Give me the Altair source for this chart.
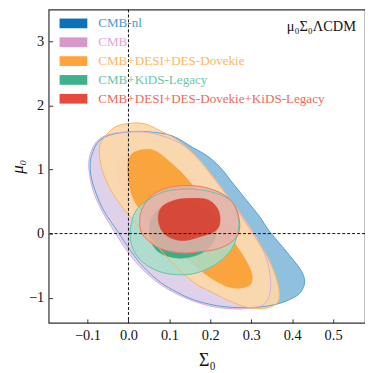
import altair as alt
import pandas as pd

# ---------------- data ----------------
series_names = ["CMB-nl", "CMB", "CMB+DESI+DES-Dovekie", "CMB+KiDS-Legacy",
                "CMB+DESI+DES-Dovekie+KiDS-Legacy"]
patch_colors = ["#0a72b8", "#d898cc", "#ffa43a", "#3eb28e", "#e64a3c"]
label_colors = ["#4a9ad2", "#e2a6da", "#ffb660", "#6cc6a8", "#ec6a5c"]

x_ticks = [-0.1, 0.0, 0.1, 0.2, 0.3, 0.4, 0.5]
y_ticks = [-1, 0, 1, 2, 3]
x_domain = [-0.195, 0.578]
y_domain = [-1.395, 3.5]

# CMB-nl 95%
cmbnl95_sigma = [-0.0887, -0.075, -0.0468, 0.0016, 0.05, 0.1065, 0.1589, 0.1911, 0.2234, 0.2556,
                 0.2879, 0.3202, 0.3444, 0.3847, 0.4169, 0.429, 0.429, 0.4169, 0.3927, 0.3605,
                 0.3202, 0.2677, 0.2113, 0.1589, 0.1185, 0.0782, 0.0379, 0.0056, -0.0266, -0.0589,
                 -0.079, -0.0911, -0.0935]
cmbnl95_mu = [1.244, 1.424, 1.537, 1.589, 1.589, 1.527, 1.337, 1.219, 1.039, 0.781,
              0.524, 0.267, 0.036, -0.272, -0.530, -0.684, -0.812, -0.941, -1.033, -1.105,
              -1.147, -1.157, -1.121, -1.033, -0.915, -0.761, -0.530, -0.272, 0.036, 0.344,
              0.627, 0.884, 1.090]

# CMB 95%
cmb95_sigma = [-0.0968, -0.0887, -0.071, -0.0387, 0.0097, 0.0581, 0.1226, 0.171, 0.2194, 0.2677,
               0.3081, 0.3363, 0.3468, 0.3452, 0.3323, 0.3081, 0.2677, 0.2113, 0.1589, 0.1145,
               0.0742, 0.0339, 0.0, -0.0323, -0.0629, -0.0831, -0.0935]
cmb95_mu = [1.116, 1.321, 1.476, 1.563, 1.589, 1.568, 1.424, 1.167, 0.781, 0.370,
            -0.015, -0.375, -0.684, -0.941, -1.095, -1.157, -1.177, -1.147, -1.054, -0.931,
            -0.776, -0.555, -0.298, 0.010, 0.334, 0.612, 0.859]

# CMB 68%
cmb68_sigma = [-0.029, -0.021, -0.0024, 0.0258, 0.0661, 0.1145, 0.1629, 0.2113, 0.2516, 0.2637,
               0.2556, 0.2274, 0.1871, 0.1387, 0.0903, 0.0419, 0.0056, -0.0185]
cmb68_mu = [1.039, 1.167, 1.219, 1.167, 0.961, 0.653, 0.293, -0.067, -0.427, -0.684,
            -0.812, -0.828, -0.710, -0.478, -0.195, 0.139, 0.447, 0.730]

# CMB+DESI+DES-Dovekie 95%
cdd95_sigma = [-0.071, -0.0589, -0.0347, -0.0024, 0.0379, 0.0782, 0.1226, 0.1629, 0.2032, 0.2516,
               0.3, 0.3403, 0.3629, 0.3685, 0.3589, 0.3282, 0.2879, 0.2435, 0.1992, 0.1589,
               0.1065, 0.054, 0.0177, -0.0065, -0.0306, -0.0532, -0.0669]
cdd95_mu = [1.347, 1.501, 1.656, 1.717, 1.717, 1.604, 1.450, 1.219, 0.910, 0.499,
            0.036, -0.375, -0.735, -0.992, -1.111, -1.172, -1.147, -1.044, -0.900, -0.761,
            -0.452, -0.077, 0.165, 0.344, 0.550, 0.807, 1.064]

# CMB+DESI+DES-Dovekie 68%
cdd68_sigma = [0.0016, 0.0137, 0.0419, 0.0661, 0.0944, 0.1347, 0.171, 0.2113, 0.2556, 0.2879,
               0.3016, 0.3, 0.2855, 0.2613, 0.2355, 0.1992, 0.1629, 0.1226, 0.0823, 0.046,
               0.0202, 0.0056, -0.0008, -0.0016]
cdd68_mu = [1.177, 1.270, 1.316, 1.290, 1.157, 0.920, 0.643, 0.303, -0.108, -0.427,
            -0.632, -0.776, -0.838, -0.853, -0.812, -0.684, -0.504, -0.283, -0.015, 0.242,
            0.447, 0.653, 0.884, 1.064]

# CMB+KiDS-Legacy 95%
ck95_sigma = [0.0419, 0.0823, 0.1306, 0.1871, 0.2355, 0.2613, 0.2694, 0.2661, 0.2516, 0.2194,
              0.171, 0.1226, 0.0742, 0.0339, 0.0113, 0.004, 0.0097, 0.0218]
ck95_mu = [0.499, 0.643, 0.694, 0.674, 0.576, 0.422, 0.190, -0.015, -0.247, -0.452,
           -0.607, -0.643, -0.591, -0.442, -0.247, -0.015, 0.231, 0.386]

# CMB+KiDS-Legacy 68%
ck68_sigma = [0.0516, 0.0565, 0.0823, 0.1266, 0.171, 0.2032, 0.2153, 0.2032, 0.1726, 0.129,
              0.0863, 0.0621]
ck68_mu = [-0.015, 0.242, 0.422, 0.499, 0.458, 0.303, 0.062, -0.180, -0.324, -0.386,
           -0.334, -0.211]

# CMB+DESI+DES-Dovekie+KiDS-Legacy 95%
all95_sigma = [0.0339, 0.0581, 0.0903, 0.1226, 0.171, 0.2194, 0.2516, 0.2677, 0.2718, 0.2613,
               0.2355, 0.2032, 0.171, 0.1387, 0.1065, 0.0742, 0.05, 0.0323, 0.0274]
all95_mu = [0.396, 0.602, 0.704, 0.746, 0.740, 0.653, 0.509, 0.303, 0.087, -0.077,
            -0.195, -0.262, -0.283, -0.303, -0.283, -0.221, -0.118, 0.010, 0.190]

# CMB+DESI+DES-Dovekie+KiDS-Legacy 68%
all68_sigma = [0.0726, 0.0823, 0.1145, 0.1548, 0.1952, 0.2194, 0.2234, 0.2113, 0.179, 0.1387,
               0.1065, 0.0823]
all68_mu = [0.242, 0.422, 0.524, 0.550, 0.524, 0.370, 0.165, 0.036, -0.041, -0.108,
            -0.077, 0.036]

zero_sigma = [0.0]
zero_mu = [0.0]

# (key, sigma, mu, fill, fillOpacity, outline colour or None)
contours = [
    ("cmbnl95", cmbnl95_sigma, cmbnl95_mu, "#8fc1df", 1.0, "#5aa2d4"),
    ("cmb95", cmb95_sigma, cmb95_mu, "#e4d2ea", 0.93, "#dcaadc"),
    ("cmb68", cmb68_sigma, cmb68_mu, "#d2aacb", 0.9, None),
    ("cdd95", cdd95_sigma, cdd95_mu, "#fdd8a8", 0.9, "#f7b46a"),
    ("cdd68", cdd68_sigma, cdd68_mu, "#f9a034", 0.93, None),
    ("ck95", ck95_sigma, ck95_mu, "#a6dec9", 0.85, "#68c2a2"),
    ("ck68", ck68_sigma, ck68_mu, "#35ab84", 0.95, None),
    ("all95", all95_sigma, all95_mu, "#eeafa6", 0.82, "#e6786c"),
    ("all68", all68_sigma, all68_mu, "#d7402f", 0.92, None),
]

rows = []
for key, s, m, *_ in contours:
    for i, (a, b) in enumerate(zip(s, m)):
        rows.append({"key": key, "i": i, "sigma": a, "mu": b})
df = pd.DataFrame(rows)

serif = "Liberation Serif"
W, H = 319, 316

xscale = alt.Scale(domain=x_domain, nice=False, zero=False)
yscale = alt.Scale(domain=y_domain, nice=False, zero=False)

x_axis = alt.Axis(values=x_ticks, format=".1f", title="Σ₀", grid=False, ticks=False,
                  domain=False, labelFont=serif, labelFontSize=14.5, labelColor="#111",
                  labelPadding=6, titleFont=serif, titleFontSize=18, titleFontWeight="normal",
                  titleColor="#111", titlePadding=9)
y_axis = alt.Axis(values=y_ticks, format="d", title="μ₀", grid=False, ticks=False,
                  domain=False, labelFont=serif, labelFontSize=14.5, labelColor="#111",
                  labelPadding=5, titleFont=serif, titleFontSize=17, titleFontWeight="normal",
                  titleFontStyle="italic", titleColor="#111", titlePadding=2)
# inward tick marks: an axis on the opposite side shifted onto the frame
x_tick_axis = alt.Axis(values=x_ticks, orient="top", offset=-H, labels=False, domain=False,
                       grid=False, ticks=True, tickSize=4, tickColor="#333", tickWidth=1,
                       title=None)
y_tick_axis = alt.Axis(values=y_ticks, orient="right", offset=-W, labels=False, domain=False,
                       grid=False, ticks=True, tickSize=4, tickColor="#333", tickWidth=1,
                       title=None)


def enc(first=False):
    return dict(
        x=alt.X("sigma:Q", scale=xscale, axis=x_axis if first else None),
        y=alt.Y("mu:Q", scale=yscale, axis=y_axis if first else None),
        order=alt.Order("i:Q"),
    )


fill_layers = []
line_layers = []
for n, (key, s, m, fill, fop, outline) in enumerate(contours):
    base = alt.Chart(df).transform_filter(alt.datum.key == key)
    fill_layers.append(
        base.mark_line(interpolate="cardinal-closed", fill=fill, fillOpacity=fop,
                       stroke=fill, strokeWidth=0.5, strokeOpacity=fop).encode(**enc(n == 0))
    )
    if outline:
        line_layers.append(
            base.mark_line(interpolate="cardinal-closed", stroke=outline,
                           strokeWidth=1.0).encode(**enc())
        )

vline = alt.Chart(pd.DataFrame({"sigma": zero_sigma})).mark_rule(
    color="#111", strokeWidth=1, strokeDash=[3, 2]).encode(
    x=alt.X("sigma:Q", scale=xscale, axis=x_tick_axis))
hline = alt.Chart(pd.DataFrame({"mu": zero_mu})).mark_rule(
    color="#111", strokeWidth=1, strokeDash=[3, 2]).encode(
    y=alt.Y("mu:Q", scale=yscale, axis=y_tick_axis))

label_expr = ""
for name, col in zip(series_names, label_colors):
    label_expr += f"datum.value === '{name}' ? '{col}' : "
label_expr += f"'{label_colors[-1]}'"

legend_layer = alt.Chart(pd.DataFrame({"series": series_names})).transform_filter(
    "false").mark_point(filled=True, opacity=1).encode(
    fill=alt.Fill("series:N", scale=alt.Scale(domain=series_names, range=patch_colors),
                  legend=alt.Legend(orient="none", legendX=18, legendY=7, title=None,
                                    symbolType="M-2,-0.7H2V0.7H-2Z", symbolSize=196,
                                    symbolStrokeWidth=0, symbolOpacity=1,
                                    labelFont=serif, labelFontSize=13.2, labelOffset=18,
                                    rowPadding=5, padding=0,
                                    labelColor=alt.expr(label_expr),
                                    labelLimit=400))
)

annot = alt.Chart(pd.DataFrame({"a": [0]})).mark_text(
    text="μ₀Σ₀ΛCDM", align="right", baseline="middle", font=serif, fontSize=14.5,
    color="#111").encode(x=alt.X(datum=0.556, scale=xscale, axis=None),
                         y=alt.Y(datum=3.22, scale=yscale, axis=None))

chart = alt.layer(*fill_layers, *line_layers, vline, hline, legend_layer, annot).resolve_axis(
    x="independent", y="independent"
).properties(
    width=W, height=H,
    padding={"left": 41, "top": 0, "right": 0, "bottom": 49},
    autosize=alt.AutoSizeParams(type="none"),
    background="white",
).configure_view(stroke="#333", strokeWidth=1.2)

chart.save("out.html", embed_options={"renderer": "svg", "actions": False})
